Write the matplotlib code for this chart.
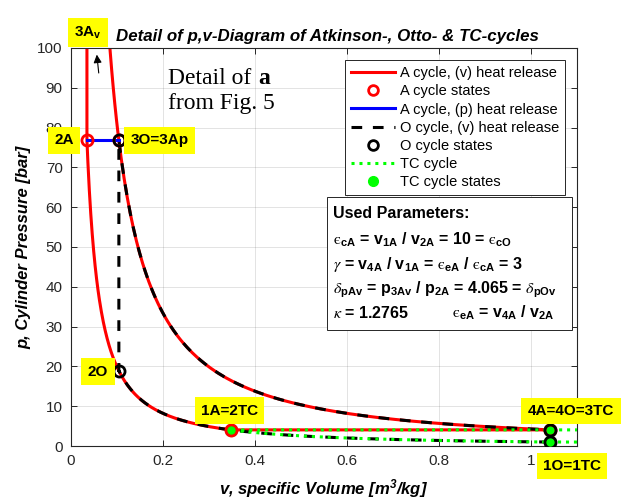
import numpy as np
import matplotlib
matplotlib.use("Agg")
import matplotlib.pyplot as plt
from matplotlib.lines import Line2D
from matplotlib.patches import Rectangle

plt.rcParams['font.family'] = ['Liberation Sans', 'DejaVu Sans']
plt.rcParams['mathtext.fontset'] = 'stix'
plt.rcParams['mathtext.default'] = 'regular'

# cycle parameters
kappa = 1.2765
eps_c = 10
gamma = 3
delta_p = 4.065

# state points (v in m^3/kg, p in bar)
# Atkinson: 1A, 2A, 3Av, 3Ap, 4A
v_A = [0.347, 0.0347, 0.0347, 0.1041, 1.041]
p_A = [4.06, 76.8, 312.0, 76.8, 4.06]
# Otto: 1O, 2O, 3O, 4O
v_O = [1.041, 0.1041, 0.1041, 1.041]
p_O = [1.0, 18.9, 76.8, 4.06]
# TC: 1TC, 2TC, 3TC
v_TC = [1.041, 0.347, 1.041]
p_TC = [1.0, 4.06, 4.06]

x_ticks = [0, 0.2, 0.4, 0.6, 0.8, 1.0]
x_tick_labels = ['0', '0.2', '0.4', '0.6', '0.8', '1']
y_ticks = list(range(0, 101, 10))


def polytrope(v0, p0, v1, n=300):
    # p v^kappa = const between two states
    v = np.linspace(v0, v1, n)
    return v, p0 * (v0 / v) ** kappa


fig = plt.figure(figsize=(6.36, 5.04), dpi=100)
ax = fig.add_axes([0.1116, 0.115, 0.7956, 0.790])

# A cycle, isochoric heat release
vc, pc = polytrope(v_A[0], p_A[0], v_A[1])
ve, pe = polytrope(v_A[2], p_A[2], v_A[4])
vA_line = np.concatenate([vc, [v_A[1], v_A[2]], ve, [v_A[4], v_A[0]]])
pA_line = np.concatenate([pc, [p_A[1], p_A[2]], pe, [p_A[4], p_A[0]]])
ax.plot(vA_line, pA_line, color='red', lw=2.2, zorder=2)

# A cycle, isobaric heat release
ax.plot([v_A[1], v_A[3]], [p_A[1], p_A[3]], color='blue', lw=2.2, zorder=2)

# O cycle
vc, pc = polytrope(v_O[0], p_O[0], v_O[1])
ve, pe = polytrope(v_O[2], p_O[2], v_O[3])
vO_line = np.concatenate([vc, [v_O[1], v_O[2]], ve, [v_O[3], v_O[0]]])
pO_line = np.concatenate([pc, [p_O[1], p_O[2]], pe, [p_O[3], p_O[0]]])
ax.plot(vO_line, pO_line, color='black', lw=2.2, ls=(0, (3.5, 3.5)), zorder=3)

# TC cycle (runs on past the right edge)
vc, pc = polytrope(v_TC[0], p_TC[0], v_TC[1])
vT_line = np.concatenate([[1.1], vc, [v_TC[2], 1.1]])
pT_line = np.concatenate([[p_TC[0]], pc, [p_TC[2], p_TC[2]]])
ax.plot(vT_line, pT_line, color='#00ff00', lw=2.2, ls=(0, (1, 1.6)), zorder=4)

# state markers
ax.plot(v_TC, p_TC, 'o', color='#00ff00', ms=8.5, mec='#00ff00', zorder=5)
ax.plot(v_A, p_A, 'o', mfc='none', mec='red', ms=8, mew=2, zorder=6)
ax.plot(v_O, p_O, 'o', mfc='none', mec='black', ms=8, mew=2, zorder=6)

ax.set_xlim(0, 1.1)
ax.set_ylim(0, 100)
ax.set_xticks(x_ticks)
ax.set_xticklabels(x_tick_labels)
ax.set_yticks(y_ticks)
ax.tick_params(direction='in', top=True, right=True, length=4, width=0.7,
               labelsize=11, colors='#262626', pad=6)
for s in ax.spines.values():
    s.set_color('#262626')
    s.set_linewidth(0.8)
ax.grid(True, color='#262626', alpha=0.13, lw=0.7)
ax.set_axisbelow(True)

ax.set_xlabel('v, specific Volume [m$^3$/kg]', fontsize=12, fontweight='bold',
              fontstyle='italic', labelpad=6)
ax.set_ylabel('p, Cylinder Pressure [bar]', fontsize=12, fontweight='bold',
              fontstyle='italic', labelpad=4)
fig.text(0.515, 0.928, 'Detail of p,v-Diagram of Atkinson-, Otto- & TC-cycles',
         ha='center', va='center', fontsize=12.2, fontweight='bold', fontstyle='italic')

# state labels
box = dict(boxstyle='square,pad=0.42', fc='yellow', ec='none')
lab = dict(fontsize=11, fontweight='bold', ha='center', va='center', bbox=box,
           zorder=8, annotation_clip=False)
ax.annotate('2A', xy=(-0.015, 76.8), **lab)
ax.annotate('3O=3Ap', xy=(0.193, 76.8), **lab)
ax.annotate('2O', xy=(0.0587, 18.7), **lab)
ax.annotate('1A=2TC', xy=(0.3446, 8.9), **lab)
ax.annotate('4A=4O=3TC', xy=(1.087, 8.8), **lab)
ax.annotate('1O=1TC', xy=(1.089, -5.0), **lab)
ax.annotate('3A$_v$', xy=(0.0565, 99.5), xytext=(0.037, 103.8),
            textcoords='data', fontsize=11, fontweight='bold', ha='center',
            va='center', bbox=box, zorder=8, annotation_clip=False)
ax.annotate('', xy=(0.0555, 99.0), xytext=(0.061, 93.0),
            arrowprops=dict(arrowstyle='-|>', color='black', lw=0.8,
                            mutation_scale=12), annotation_clip=False)

# reference note
ax.text(0.211, 95.0, 'Detail of', family='Liberation Serif', fontsize=17, va='top')
ax.text(0.408, 95.0, 'a', family='Liberation Serif', fontsize=17, va='top',
        fontweight='bold')
ax.text(0.211, 88.6, 'from Fig. 5', family='Liberation Serif', fontsize=17, va='top')

# legend
handles = [
    Line2D([], [], color='red', lw=2.2),
    Line2D([], [], ls='none', marker='o', mfc='none', mec='red', ms=7, mew=2),
    Line2D([], [], color='blue', lw=2.2),
    Line2D([], [], color='black', lw=2.2, ls=(0, (3.5, 3.5))),
    Line2D([], [], ls='none', marker='o', mfc='none', mec='black', ms=7, mew=2),
    Line2D([], [], color='#00ff00', lw=2.2, ls=(0, (1, 1.6))),
    Line2D([], [], ls='none', marker='o', color='#00ff00', ms=7),
]
labels = ['A cycle, (v) heat release', 'A cycle states', 'A cycle, (p) heat release',
          'O cycle, (v) heat release', 'O cycle states', 'TC cycle', 'TC cycle states']
leg = ax.legend(handles, labels, loc='upper right', bbox_to_anchor=(0.977, 0.970),
                fontsize=10.5, fancybox=False, framealpha=1, edgecolor='#262626',
                handlelength=3.0, handletextpad=0.3, labelspacing=0.28,
                borderpad=0.45, borderaxespad=0)
leg.get_frame().set_linewidth(0.7)
leg.set_zorder(9)

# parameter box
ax.add_patch(Rectangle((0.506, 0.291), 0.484, 0.335, transform=ax.transAxes,
                       fc='white', ec='#262626', lw=0.7, zorder=9))
ptxt = dict(transform=ax.transAxes, fontsize=11.5, fontweight='bold', va='center',
            zorder=10)
eps = r'\mathrm{ϵ}'
ax.text(0.518, 0.585, 'Used Parameters:', **ptxt)
ax.text(0.518, 0.518, r'$%s_{cA}$ = v$_{1A}$ / v$_{2A}$ = %d = $%s_{cO}$' % (eps, eps_c, eps),
        **ptxt)
ax.text(0.518, 0.455, r'$\mathit{γ}$ = v$_{4A}$ / v$_{1A}$ = $%s_{eA}$ / $%s_{cA}$ = %d'
        % (eps, eps, gamma), **ptxt)
ax.text(0.518, 0.392, r'$\mathit{δ}_{pAv}$ = p$_{3Av}$ / p$_{2A}$ = %.3f = $\mathit{δ}_{pOv}$'
        % delta_p, **ptxt)
ax.text(0.518, 0.334, r'$\mathit{κ}$ = %.4f' % kappa, **ptxt)
ax.text(0.753, 0.334, r'$%s_{eA}$ = v$_{4A}$ / v$_{2A}$' % eps, **ptxt)

fig.savefig('out.png', dpi=100)
